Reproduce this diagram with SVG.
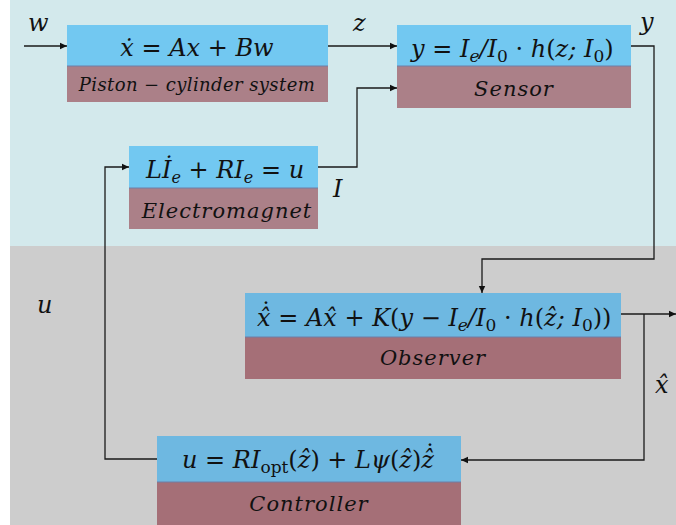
<svg xmlns="http://www.w3.org/2000/svg" width="676" height="525" viewBox="0 0 676 525">
<defs>
<marker id="ah" markerWidth="8" markerHeight="8" refX="7" refY="4" orient="auto" markerUnits="userSpaceOnUse">
<path d="M0,0.8 L7,4 L0,7.2 Z" fill="#111"/>
</marker>
<style>
.m{font-family:"DejaVu Serif","Liberation Serif",serif;font-style:italic;font-size:24px;fill:#111}
.u{font-style:normal}
.lb{font-family:"DejaVu Serif","Liberation Serif",serif;font-style:italic;font-size:21px;fill:#111;text-anchor:middle;letter-spacing:1px}
.c{fill:none;stroke:#1a1a1a;stroke-width:1.3}
.bt{fill:#72c8f1}
.mt{fill:#ab8088}
.bb{fill:#6eb8e1}
.mb{fill:#a56f77}
.sep{stroke:#6f7fa6;stroke-width:1}
</style>
</defs>
<rect x="0" y="0" width="676" height="525" fill="#ffffff"/>
<rect x="10" y="0" width="666" height="246" fill="#d3e9ec"/>
<rect x="10" y="246" width="666" height="279" fill="#cdcdcd"/>

<g id="piston">
<rect class="bt" x="67" y="25" width="261" height="41"/>
<rect class="mt" x="67" y="66" width="261" height="36"/>
<line class="sep" x1="67" y1="66" x2="328" y2="66"/>
<text class="m" x="197" y="56" text-anchor="middle" font-size="23">ẋ <tspan class="u">=</tspan> Ax <tspan class="u">+</tspan> Bw</text>
<text class="lb" x="197" y="91" style="font-size:18px;letter-spacing:0.4px">Piston − cylinder system</text>
</g>

<g id="sensor">
<rect class="bt" x="397" y="25" width="234" height="41"/>
<rect class="mt" x="397" y="66" width="234" height="42"/>
<line class="sep" x1="397" y1="66" x2="631" y2="66"/>
<text class="m" x="411" y="57">y <tspan class="u">=</tspan> I<tspan dy="5" font-size="17">e</tspan><tspan dy="-5">/I</tspan><tspan class="u" dy="5" font-size="17">0</tspan><tspan class="u" dy="-5"> · </tspan>h<tspan class="u">(</tspan>z; I<tspan class="u" dy="5" font-size="17">0</tspan><tspan class="u" dy="-5">)</tspan></text>
<text class="lb" x="514" y="96">Sensor</text>
</g>

<g id="electromagnet">
<rect class="bt" x="129" y="146" width="189" height="42"/>
<rect class="mt" x="129" y="188" width="189" height="41"/>
<line class="sep" x1="129" y1="188" x2="318" y2="188"/>
<text class="m" x="146" y="178" font-size="23">Lİ<tspan dy="5" font-size="16">e</tspan><tspan class="u" dy="-5"> + </tspan>RI<tspan dy="5" font-size="16">e</tspan><tspan class="u" dy="-5"> = </tspan>u</text>
<text class="lb" x="227" y="218">Electromagnet</text>
</g>

<g id="observer">
<rect class="bb" x="245" y="293" width="376" height="44"/>
<rect class="mb" x="245" y="337" width="376" height="42"/>
<line class="sep" x1="245" y1="337" x2="621" y2="337"/>
<text class="m" x="257" y="326">x̂ <tspan class="u">=</tspan> Ax̂ <tspan class="u">+</tspan> K<tspan class="u">(</tspan>y <tspan class="u">−</tspan> I<tspan dy="5" font-size="17">e</tspan><tspan dy="-5">/I</tspan><tspan class="u" dy="5" font-size="17">0</tspan><tspan class="u" dy="-5"> · </tspan>h<tspan class="u">(</tspan>ẑ; I<tspan class="u" dy="5" font-size="17">0</tspan><tspan class="u" dy="-5">))</tspan><tspan class="u" x="266" y="320" text-anchor="middle">˙</tspan></text>
<text class="lb" x="433" y="365">Observer</text>
</g>

<g id="controller">
<rect class="bb" x="157" y="436" width="304" height="46"/>
<rect class="mb" x="157" y="482" width="304" height="43"/>
<line class="sep" x1="157" y1="482" x2="461" y2="482"/>
<text class="m" x="182" y="468">u <tspan class="u">=</tspan> RI<tspan class="u" dy="5" font-size="17">opt</tspan><tspan class="u" dy="-5">(</tspan>ẑ<tspan class="u">) + </tspan>Lψ<tspan class="u">(</tspan>ẑ<tspan class="u">)</tspan>ẑ<tspan class="u" x="430" y="462" text-anchor="middle">˙</tspan></text>
<text class="lb" x="309" y="511">Controller</text>
</g>

<g id="connectors">
<line class="c" x1="24" y1="46" x2="67" y2="46" marker-end="url(#ah)"/>
<line class="c" x1="328" y1="46" x2="397" y2="46" marker-end="url(#ah)"/>
<polyline class="c" points="318,167 357,167 357,88 397,88" marker-end="url(#ah)"/>
<polyline class="c" points="631,46 654,46 654,259 482,259 482,293" marker-end="url(#ah)"/>
<line class="c" x1="621" y1="314" x2="676" y2="314" marker-end="url(#ah)"/>
<polyline class="c" points="644,314 644,460 461,460" marker-end="url(#ah)"/>
<polyline class="c" points="157,459 105,459 105,167 129,167" marker-end="url(#ah)"/>
</g>

<g id="labels">
<text class="m" x="28" y="31" font-size="26">w</text>
<text class="m" x="353" y="31" font-size="26">z</text>
<text class="m" x="640" y="30" font-size="26">y</text>
<text class="m" x="333" y="197" font-size="26">I</text>
<text class="m" x="37" y="313" font-size="26">u</text>
<text class="m" x="655" y="393" font-size="26">x̂</text>
</g>
</svg>
